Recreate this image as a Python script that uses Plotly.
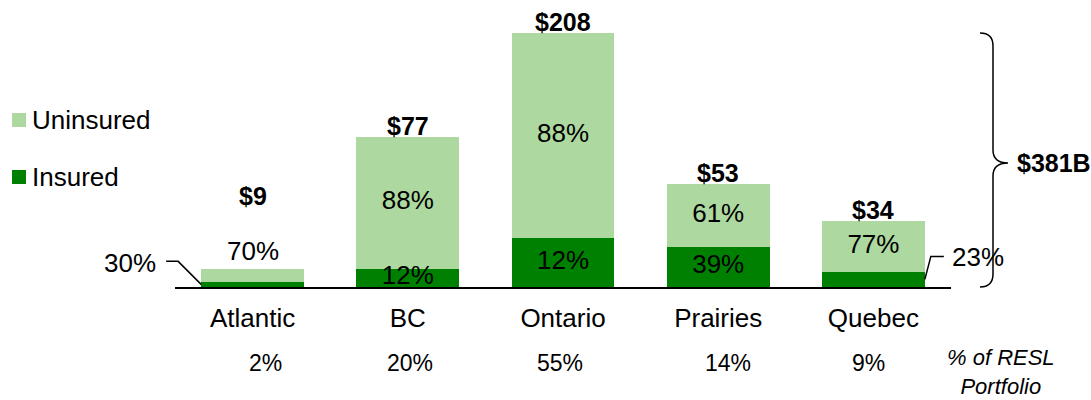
import plotly.graph_objects as go

# Residential secured lending by region ($B)
regions = ["Atlantic", "BC", "Ontario", "Prairies", "Quebec"]
totals = [9, 77, 208, 53, 34]
insured_pct = [30, 12, 12, 39, 23]
uninsured_pct = [70, 88, 88, 61, 77]
portfolio_share = [2, 20, 55, 14, 9]
portfolio_total = "$381B"

LIGHT = "#ADD8A0"
DARK = "#008000"
FONT = "Liberation Sans, Arial, sans-serif"
LABEL = 26
BOLD = 25

# visible value range: the tallest bar runs past the top of the plot area
Y_TOP = 130.3
BAR_W = 0.663
X_RANGE = [-0.5, len(regions) - 0.5]

insured = [t * p / 100 for t, p in zip(totals, insured_pct)]
uninsured = [t * p / 100 for t, p in zip(totals, uninsured_pct)]
visible_top = [min(t, Y_TOP) for t in totals]


def paper_x(v):
    return (v - X_RANGE[0]) / (X_RANGE[1] - X_RANGE[0])


def paper_y(v):
    return v / Y_TOP


fig = go.Figure()
fig.add_bar(x=regions, y=insured, name="Insured", marker_color=DARK,
            marker_line_width=0, width=BAR_W, showlegend=False, hoverinfo="skip")
fig.add_bar(x=regions, y=uninsured, name="Uninsured", marker_color=LIGHT,
            marker_line_width=0, width=BAR_W, showlegend=False, hoverinfo="skip")

# share labels inside the segments (callouts for the thin ones below)
callout_left = {"Atlantic"}
callout_right = {"Quebec"}
above_bar = {"Atlantic"}

in_x, in_y, in_t = [], [], []
for r, ins, top, ip, up in zip(regions, insured, visible_top, insured_pct, uninsured_pct):
    if r not in callout_left and r not in callout_right:
        in_x.append(r); in_y.append(ins / 2); in_t.append(f"{ip}%")
    if r not in above_bar:
        in_x.append(r); in_y.append(ins + (top - ins) / 2); in_t.append(f"{up}%")
fig.add_scatter(x=in_x, y=in_y, text=in_t, mode="text", cliponaxis=True,
                textfont=dict(size=LABEL, color="black", family=FONT),
                showlegend=False, hoverinfo="skip")

annotations = []
shapes = []
for i, (r, ins, top, tot, ip, up) in enumerate(
        zip(regions, insured, visible_top, totals, insured_pct, uninsured_pct)):
    total_shift = 11
    if r in above_bar:
        annotations.append(dict(x=r, y=top, text=f"{up}%", showarrow=False,
                                yanchor="middle", yshift=18,
                                font=dict(size=LABEL, color="black", family=FONT)))
        total_shift = 73
    annotations.append(dict(x=r, y=top, text=f"<b>${tot}</b>", showarrow=False,
                            yanchor="middle", yshift=total_shift,
                            font=dict(size=BOLD, color="black", family=FONT)))
    if r in callout_left:
        ax = i - BAR_W / 2
        # paper-referenced so the leader is not clipped at the plot edge
        shapes.append(dict(type="path", xref="paper", yref="paper", xsizemode="pixel",
                           ysizemode="pixel", xanchor=paper_x(ax), yanchor=paper_y(ins / 2),
                           path="M0,0 L-23,23 L-35,23",
                           line=dict(color="black", width=1.5)))
        annotations.append(dict(x=ax, y=ins / 2, text=f"{ip}%", showarrow=False,
                                xanchor="right", yanchor="middle", xshift=-43, yshift=21,
                                font=dict(size=LABEL, color="black", family=FONT)))
    if r in callout_right:
        ax = i + BAR_W / 2
        shapes.append(dict(type="path", xref="paper", yref="paper", xsizemode="pixel",
                           ysizemode="pixel", xanchor=paper_x(ax), yanchor=paper_y(ins / 2),
                           path="M0,0 L6,23 L19,23",
                           line=dict(color="black", width=1.5)))
        annotations.append(dict(x=ax, y=ins / 2, text=f"{ip}%", showarrow=False,
                                xanchor="left", yanchor="middle", xshift=25, yshift=22,
                                font=dict(size=LABEL, color="black", family=FONT)))

# share of portfolio row
share_shift = [13, 2, -3, 10, -5]
for r, s, dx in zip(regions, portfolio_share, share_shift):
    annotations.append(dict(x=r, y=0, yref="paper", text=f"{s}%", showarrow=False,
                            yanchor="middle", yshift=-76, xshift=dx,
                            font=dict(size=23, color="black", family=FONT)))
annotations.append(dict(x=1, xref="paper", y=0, yref="paper",
                        text="<i>% of RESL<br>Portfolio</i>", showarrow=False,
                        xanchor="center", yanchor="bottom", xshift=50, yshift=-113,
                        align="center", borderpad=0,
                        font=dict(size=22, color="black", family=FONT)))

# brace spanning all regions with the portfolio total
shapes.append(dict(type="path", xref="paper", yref="paper", xsizemode="pixel",
                   ysizemode="pixel", xanchor=1, yanchor=0,
                   path=("M29,254 Q42,254 42,241 L42,137 Q42,124 57,124 "
                         "Q42,124 42,111 L42,13 Q42,0 29,0"),
                   line=dict(color="black", width=1.5)))
annotations.append(dict(x=1, xref="paper", y=0, yref="paper",
                        text=f"<b>{portfolio_total}</b>", showarrow=False,
                        xanchor="left", yanchor="middle", xshift=64, yshift=124,
                        font=dict(size=BOLD, color="black", family=FONT)))

# legend
for name, color, yc in [("Uninsured", LIGHT, 167), ("Insured", DARK, 110)]:
    shapes.append(dict(type="rect", xref="paper", yref="paper", xsizemode="pixel",
                       ysizemode="pixel", xanchor=0, yanchor=0,
                       x0=-163, x1=-149, y0=yc - 7, y1=yc + 7,
                       fillcolor=color, line_width=0))
    annotations.append(dict(x=0, xref="paper", y=0, yref="paper", text=name,
                            showarrow=False, xanchor="left", yanchor="middle",
                            xshift=-145, yshift=yc,
                            font=dict(size=LABEL, color="black", family=FONT)))

fig.update_layout(
    barmode="stack",
    width=1091, height=400,
    margin=dict(l=175, r=140, t=33, b=113),
    paper_bgcolor="white", plot_bgcolor="white",
    shapes=shapes, annotations=annotations,
    font=dict(family=FONT, color="black"),
)
fig.update_xaxes(showline=True, linecolor="black", linewidth=2, ticks="",
                 showgrid=False, zeroline=False, ticklabelstandoff=7,
                 tickfont=dict(size=LABEL, color="black", family=FONT),
                 range=X_RANGE)
fig.update_yaxes(visible=False, range=[0, Y_TOP], showgrid=False, zeroline=False)

fig.write_html("out.html", config={"displayModeBar": False})
